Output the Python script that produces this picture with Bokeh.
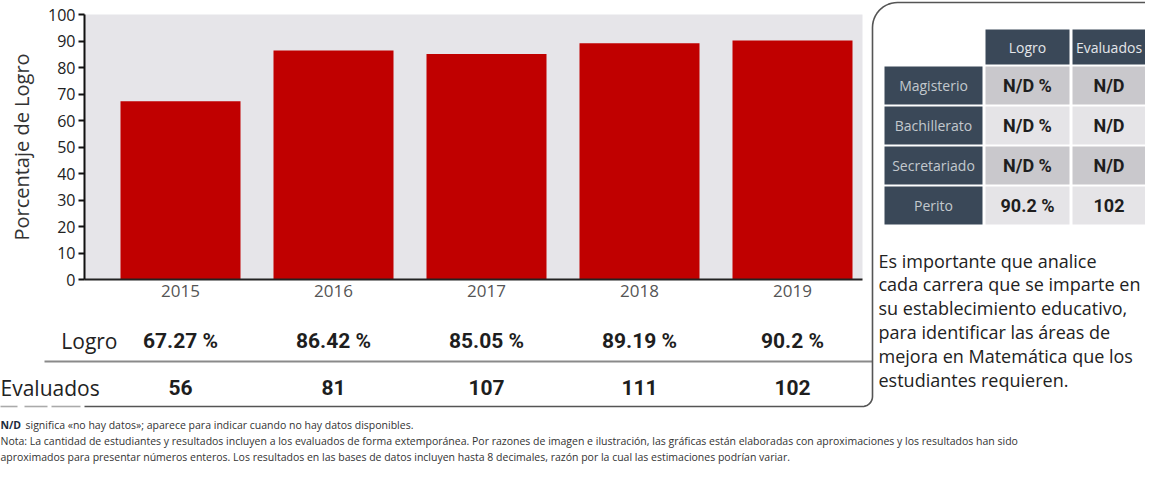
import numpy as np
from bokeh.plotting import figure
from bokeh.models import Range1d, FixedTicker
from bokeh.core.properties import value
from bokeh.embed import file_html
from bokeh.resources import INLINE

# ---------------- data ----------------
years = ["2015", "2016", "2017", "2018", "2019"]
logro = [67.27, 86.42, 85.05, 89.19, 90.2]
evaluados = [56, 81, 107, 111, 102]
y_ticks = [0, 10, 20, 30, 40, 50, 60, 70, 80, 90, 100]

carreras = ["Magisterio", "Bachillerato", "Secretariado", "Perito"]
carrera_logro = ["N/D", "N/D", "N/D", "90.2"]
carrera_eval = ["N/D", "N/D", "N/D", "102"]
table_headers = ["Logro", "Evaluados"]

mensaje = [
    "Es importante que analice",
    "cada carrera que se imparte en",
    "su establecimiento educativo,",
    "para identificar las áreas de",
    "mejora en Matemática que los",
    "estudiantes requieren.",
]
nota_nd = "N/D"
nota_nd_rest = "significa «no hay datos»; aparece para indicar cuando no hay datos disponibles."
nota_lines = [
    "Nota: La cantidad de estudiantes y resultados incluyen a los evaluados de forma extemporánea. Por razones de imagen e ilustración, las gráficas están elaboradas con aproximaciones y los resultados han sido",
    "aproximados para presentar números enteros. Los resultados en las bases de datos incluyen hasta 8 decimales, razón por la cual las estimaciones podrían variar.",
]

# ---------------- layout ----------------
W, H = 1145, 466
FL, FR, FT, FB = 84, 862, 14, 279
PITCH = 153.0
idx = list(range(len(years)))

RED = "#c00000"
SLATE = "#3a4858"
DARK_CELL = "#c9c8cc"
LIGHT_CELL = "#e5e4e7"
FONT = value("Open Sans")
BOLD = value("Roboto")

p = figure(width=W, height=H, output_backend="svg", toolbar_location=None, title=None,
           x_range=Range1d(-96 / PITCH, idx[-1] + 70 / PITCH), y_range=Range1d(0, 100),
           min_border_left=FL, min_border_right=W - FR, min_border_top=FT, min_border_bottom=H - FB)
p.extra_x_ranges = {"px": Range1d(FL, FR)}
p.extra_y_ranges = {"px": Range1d(FB, FT)}

p.background_fill_color = "#e6e5e9"
p.border_fill_color = "white"
p.outline_line_color = None
p.xgrid.visible = False
p.ygrid.visible = False

# bars
p.vbar(x=idx, top=logro, bottom=0, width=120 / PITCH, fill_color=RED, line_color=None)

# axes
yax = p.yaxis[0]
yax.ticker = FixedTicker(ticks=y_ticks)
yax.axis_line_width = 2
yax.axis_line_color = "#111111"
yax.major_tick_out = 6
yax.major_tick_in = 0
yax.major_tick_line_width = 2
yax.major_tick_line_color = "#111111"
yax.minor_tick_out = 0
yax.minor_tick_in = 0
yax.major_label_text_font = "Open Sans"
yax.major_label_text_font_size = "16px"
yax.major_label_text_color = "#222222"
yax.major_label_standoff = 3
yax.axis_label = "Porcentaje de Logro"
yax.axis_label_text_font = "Open Sans"
yax.axis_label_text_font_size = "20px"
yax.axis_label_text_font_style = "normal"
yax.axis_label_text_color = "#333333"
yax.axis_label_standoff = 10

xax = p.xaxis[0]
xax.ticker = FixedTicker(ticks=idx)
xax.major_label_overrides = {i: y for i, y in zip(idx, years)}
xax.axis_line_width = 2
xax.axis_line_color = "#222222"
xax.major_tick_out = 0
xax.major_tick_in = 0
xax.minor_tick_out = 0
xax.minor_tick_in = 0
xax.major_label_text_font = "Open Sans"
xax.major_label_text_font_size = "17px"
xax.major_label_text_color = "#555555"
xax.major_label_standoff = 5

PX = dict(x_range_name="px", y_range_name="px", level="overlay")

# ---------------- rows under chart ----------------
ROW_LOGRO, ROW_EVAL = 340, 387
p.text(x=idx, y=[ROW_LOGRO] * len(idx), text=[f"{v:g} %" for v in logro],
       text_align="center", text_baseline="middle", text_font=BOLD, text_font_style="bold",
       text_font_size="21px", text_color="#1e1e1e", y_range_name="px", level="overlay")
p.text(x=idx, y=[ROW_EVAL] * len(idx), text=[str(v) for v in evaluados],
       text_align="center", text_baseline="middle", text_font=BOLD, text_font_style="bold",
       text_font_size="21px", text_color="#1e1e1e", y_range_name="px", level="overlay")
p.text(x=[117], y=[ROW_LOGRO], text=["Logro"], text_align="right", text_baseline="middle",
       text_font=FONT, text_font_size="21px", text_color="#222222", **PX)
p.text(x=[0], y=[ROW_EVAL], text=["Evaluados"], text_align="left", text_baseline="middle",
       text_font=FONT, text_font_size="21px", text_color="#222222", **PX)

# separator line and rounded frame
p.line(x=[44, 872], y=[361, 361], line_color="#8a8a8a", line_width=2, **PX)
t1 = np.linspace(np.pi / 2, 0, 10)
t2 = np.linspace(np.pi, 1.5 * np.pi, 14)
bx = [84] + list(862 + 10 * np.cos(t1)) + list(897 + 25 * np.cos(t2)) + [1145]
by = [406] + list(396 + 10 * np.sin(t1)) + list(27 + 25 * np.sin(t2)) + [2]
p.line(x=bx, y=by, line_color="#555555", line_width=1.6, **PX)
p.multi_line(xs=[[0, 17], [24, 47], [51, 80]], ys=[[406, 406]] * 3,
             line_color="#aaaaaa", line_width=1.6, **PX)

# ---------------- table ----------------
COLS = [(884, 982), (985, 1069), (1072, 1145)]
HEAD = (29, 64)
ROW_TOP = 66
ROW_H = 38
ROW_P = 40
row_tops = [ROW_TOP + i * ROW_P for i in range(len(carreras))]
row_mid = [t + ROW_H / 2 for t in row_tops]

# header cells
p.quad(left=[COLS[1][0], COLS[2][0]], right=[COLS[1][1], COLS[2][1]],
       top=[HEAD[0]] * 2, bottom=[HEAD[1]] * 2, fill_color=SLATE, line_color=None, **PX)
p.text(x=[(COLS[1][0] + COLS[1][1]) / 2, (COLS[2][0] + COLS[2][1]) / 2], y=[(HEAD[0] + HEAD[1]) / 2] * 2,
       text=table_headers, text_align="center", text_baseline="middle", text_font=FONT,
       text_font_size="14px", text_color="#e4e6ea", **PX)
# row header cells
p.quad(left=[COLS[0][0]] * 4, right=[COLS[0][1]] * 4, top=row_tops,
       bottom=[t + ROW_H for t in row_tops], fill_color=SLATE, line_color=None, **PX)
p.text(x=[(COLS[0][0] + COLS[0][1]) / 2] * 4, y=row_mid, text=carreras, text_align="center",
       text_baseline="middle", text_font=FONT, text_font_size="14px", text_color="#c3c8ce", **PX)
# value cells
cell_colors = [DARK_CELL if i % 2 == 0 else LIGHT_CELL for i in range(len(carreras))]
for c in (1, 2):
    p.quad(left=[COLS[c][0]] * 4, right=[COLS[c][1]] * 4, top=row_tops,
           bottom=[t + ROW_H for t in row_tops], fill_color=cell_colors, line_color=None, **PX)
p.text(x=[(COLS[1][0] + COLS[1][1]) / 2] * 4, y=row_mid, text=[f"{v} %" for v in carrera_logro],
       text_align="center", text_baseline="middle", text_font=BOLD, text_font_style="bold",
       text_font_size="18px", text_color="#1e1e1e", **PX)
p.text(x=[(COLS[2][0] + COLS[2][1]) / 2] * 4, y=row_mid, text=carrera_eval,
       text_align="center", text_baseline="middle", text_font=BOLD, text_font_style="bold",
       text_font_size="18px", text_color="#1e1e1e", **PX)

# paragraph
p.text(x=[878] * len(mensaje), y=[260 + 23.8 * i for i in range(len(mensaje))], text=mensaje,
       text_align="left", text_baseline="middle", text_font=FONT, text_font_size="18px",
       text_color="#222222", **PX)

# ---------------- footer ----------------
p.text(x=[0], y=[424], text=[nota_nd], text_align="left", text_baseline="middle", text_font=FONT,
       text_font_style="bold", text_font_size="10.5px", text_color="#1b2a3c", **PX)
p.text(x=[25], y=[424], text=[nota_nd_rest], text_align="left", text_baseline="middle", text_font=FONT,
       text_font_size="10.5px", text_color="#333333", **PX)
p.text(x=[0, 0], y=[440, 456], text=nota_lines, text_align="left", text_baseline="middle",
       text_font=FONT, text_font_size="10.5px", text_color="#333333", **PX)

open("out.html", "w").write(file_html(p, INLINE))
